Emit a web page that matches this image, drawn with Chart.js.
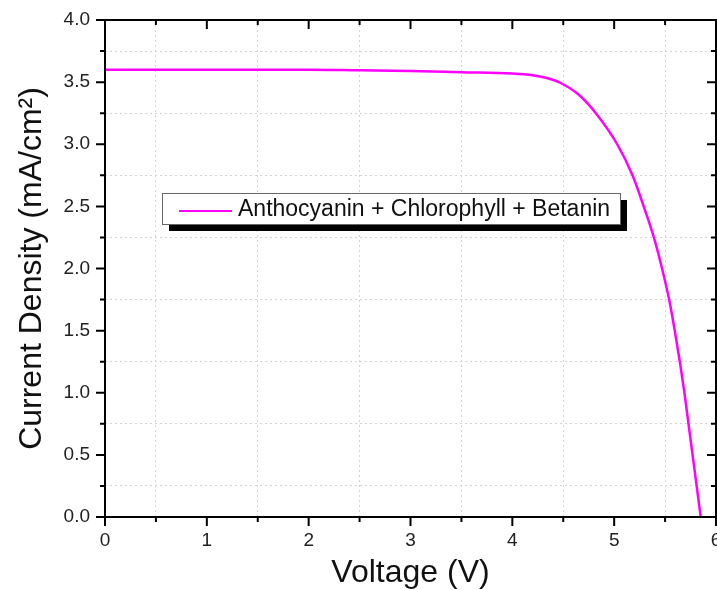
<!DOCTYPE html>
<html>
<head>
<meta charset="utf-8">
<script src="https://cdn.jsdelivr.net/npm/chart.js@4"></script>
<style>
    html, body { margin: 0; padding: 0; background: #fff; overflow: hidden; }
    #wrap { width: 740px; height: 590px; position: relative; }
</style>
</head>
<body>
<div id="wrap"><canvas id="jvChart"></canvas></div>
<script>
// J-V curve
const seriesLabel = 'Anthocyanin + Chlorophyll + Betanin';
const voltage = [0, 0.5, 1, 1.5, 2, 2.5, 3, 3.5, 4, 4.2, 4.33, 4.47, 4.65, 4.82, 5.03, 5.18, 5.29, 5.39, 5.47, 5.54, 5.595, 5.645, 5.69, 5.73, 5.77, 5.81, 5.85];
const current = [3.60, 3.60, 3.60, 3.60, 3.60, 3.595, 3.59, 3.58, 3.57, 3.556, 3.535, 3.495, 3.40, 3.25, 3.0, 2.75, 2.5, 2.25, 2.0, 1.75, 1.5, 1.25, 1.0, 0.75, 0.5, 0.25, 0.0];

const xTitle = 'Voltage (V)';
const yTitle = 'Current Density (mA/cm²)';

const FONT = '"Liberation Sans", Arial, sans-serif';

// frame, tick marks (in/out) and the shadowed legend box
const frameAndLegend = {
    id: 'frameAndLegend',
    afterDraw(chart) {
        const { ctx, chartArea: a, scales: { x, y } } = chart;
        ctx.save();
        ctx.strokeStyle = '#000';
        ctx.lineWidth = 2;
        ctx.strokeRect(a.left, a.top, a.right - a.left, a.bottom - a.top);

        ctx.beginPath();
        x.ticks.forEach(t => {
            const px = x.getPixelForValue(t.value);
            const len = Number.isInteger(t.value) ? 9 : 5;
            ctx.moveTo(px, a.bottom); ctx.lineTo(px, a.bottom + len);
            ctx.moveTo(px, a.top); ctx.lineTo(px, a.top + len);
        });
        y.ticks.forEach(t => {
            const py = y.getPixelForValue(t.value);
            const len = isHalf(t.value) ? 9 : 5;
            ctx.moveTo(a.left, py); ctx.lineTo(a.left - len, py);
            ctx.moveTo(a.right, py); ctx.lineTo(a.right - len, py);
        });
        ctx.stroke();

        // legend
        const bx = a.left + 57, by = a.top + 173, bw = 458, bh = 31;
        ctx.fillStyle = '#000';
        ctx.fillRect(bx + 7, by + 7, bw, bh);
        ctx.fillStyle = '#fff';
        ctx.fillRect(bx, by, bw, bh);
        ctx.strokeStyle = '#666';
        ctx.lineWidth = 1;
        ctx.strokeRect(bx + 0.5, by + 0.5, bw, bh);
        ctx.strokeStyle = '#ff00ff';
        ctx.lineWidth = 2;
        ctx.beginPath();
        ctx.moveTo(bx + 17, by + 18); ctx.lineTo(bx + 70, by + 18);
        ctx.stroke();
        ctx.fillStyle = '#111';
        ctx.font = '23px ' + FONT;
        ctx.textBaseline = 'middle';
        ctx.fillText(chart.data.datasets[0].label, bx + 76, by + 17);
        ctx.restore();
    }
};

function isHalf(v) { return Math.abs(v * 2 - Math.round(v * 2)) < 1e-6; }

new Chart(document.getElementById('jvChart'), {
    type: 'line',
    data: {
        datasets: [{
            label: seriesLabel,
            data: voltage.map((v, i) => ({ x: v, y: current[i] })),
            borderColor: '#ff00ff',
            borderWidth: 2.5,
            pointRadius: 0,
            cubicInterpolationMode: 'monotone',
            fill: false
        }]
    },
    options: {
        responsive: true,
        maintainAspectRatio: false,
        animation: false,
        layout: { padding: { top: 20, right: 24, left: 0, bottom: 0 } },
        plugins: { legend: { display: false }, tooltip: { enabled: false } },
        scales: {
            x: {
                type: 'linear',
                min: 0,
                max: 6,
                afterFit: s => { s.height = 73; },
                ticks: {
                    stepSize: 0.5,
                    padding: 12,
                    color: '#222',
                    font: { family: FONT, size: 19 },
                    maxRotation: 0,
                    autoSkip: false,
                    callback: v => Number.isInteger(v) ? String(v) : ''
                },
                grid: {
                    drawTicks: false,
                    lineWidth: 1,
                    color: c => (c.tick && !Number.isInteger(c.tick.value)) ? '#d4d4d4' : 'rgba(0,0,0,0)'
                },
                border: { display: false, dash: [2, 3] },
                title: {
                    display: true,
                    text: xTitle,
                    color: '#111',
                    font: { family: FONT, size: 32, lineHeight: 1 },
                    padding: { top: 0, bottom: 1 }
                }
            },
            y: {
                min: 0,
                max: 4,
                afterFit: s => { s.width = 105; },
                ticks: {
                    stepSize: 0.25,
                    padding: 0,
                    color: '#222',
                    font: { family: FONT, size: 19 },
                    autoSkip: false,
                    callback: v => isHalf(v) ? v.toFixed(1) : ''
                },
                grid: {
                    drawTicks: true,
                    tickLength: 15,
                    tickColor: 'rgba(0,0,0,0)',
                    lineWidth: 1,
                    color: c => (c.tick && !isHalf(c.tick.value)) ? '#d4d4d4' : 'rgba(0,0,0,0)'
                },
                border: { display: false, dash: [2, 3] },
                title: {
                    display: true,
                    text: yTitle,
                    color: '#111',
                    font: { family: FONT, size: 32, lineHeight: 1 },
                    padding: { top: 16, bottom: 0 }
                }
            }
        }
    },
    plugins: [frameAndLegend]
});
</script>
</body>
</html>
